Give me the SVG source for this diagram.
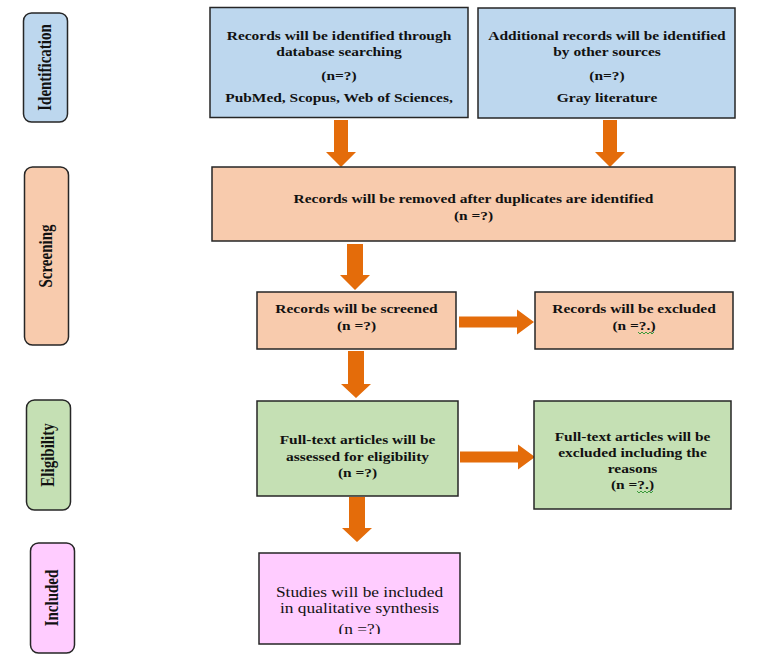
<svg xmlns="http://www.w3.org/2000/svg" width="767" height="662" viewBox="0 0 767 662">
<defs>
<style>
.box{stroke:#262626;stroke-width:1.5}
.blue{fill:#BDD7EE}
.orange{fill:#F8CBAD}
.green{fill:#C5E0B4}
.pink{fill:#FFCCFF}
.t{font-family:"Liberation Serif","Times New Roman",serif;font-size:13px;font-weight:bold;fill:#111;text-anchor:middle}
.r{font-family:"Liberation Serif","Times New Roman",serif;font-size:14px;font-weight:normal;fill:#111;text-anchor:middle}
.lab{font-family:"Liberation Serif","Times New Roman",serif;font-size:15px;font-weight:bold;fill:#111;text-anchor:middle}
.arrow{fill:#E46C0A}
.sq{fill:none;stroke:#3a9a3a;stroke-width:1}
</style>
<clipPath id="clipStudies"><rect x="259" y="553" width="201" height="81"/></clipPath>
</defs>
<rect width="767" height="662" fill="#ffffff"/>

<g id="label-identification">
<rect class="box blue" x="23.5" y="13" width="44" height="109" rx="8"/>
<text class="lab" transform="translate(50.5,67.5) scale(1.19,1) rotate(-90)">Identification</text>
</g>
<g id="label-screening">
<rect class="box orange" x="24.5" y="167" width="44" height="178" rx="8"/>
<text class="lab" transform="translate(51.5,256) scale(1.19,1) rotate(-90)">Screening</text>
</g>
<g id="label-eligibility">
<rect class="box green" x="26.5" y="400" width="44" height="110" rx="8"/>
<text class="lab" transform="translate(53.5,455) scale(1.19,1) rotate(-90)">Eligibility</text>
</g>
<g id="label-included">
<rect class="box pink" x="30.5" y="543" width="44" height="110" rx="8"/>
<text class="lab" transform="translate(57.5,598) scale(1.19,1) rotate(-90)">Included</text>
</g>

<g id="connectors">
<polygon class="arrow" points="334,120 348,120 348,152 356,152 341,167 326,152 334,152"/>
<polygon class="arrow" points="603,120 617,120 617,152 625,152 610,167 595,152 603,152"/>
<polygon class="arrow" points="347,244 363,244 363,275 370,275 355,290 340,275 347,275"/>
<polygon class="arrow" points="348,351 364,351 364,384 371,384 356,398 341,384 348,384"/>
<polygon class="arrow" points="349,497 365,497 365,528 372,528 357,542 342,528 349,528"/>
<polygon class="arrow" points="459,316.5 517,316.5 517,309.5 534,322 517,334.5 517,327.5 459,327.5"/>
<polygon class="arrow" points="460,451.5 518,451.5 518,444.5 535,457 518,469.5 518,462.5 460,462.5"/>
</g>

<g id="node-database">
<rect class="box blue" x="210" y="7.5" width="258" height="110"/>
<g transform="translate(339,0) scale(1.19,1)">
<text class="t" x="0" y="40">Records will be identified through</text>
<text class="t" x="0" y="56">database searching</text>
<text class="t" x="0" y="80">(n=?)</text>
<text class="t" x="0" y="102">PubMed, Scopus, Web of Sciences,</text>
</g>
</g>

<g id="node-other">
<rect class="box blue" x="478" y="8" width="257" height="110"/>
<g transform="translate(607,0) scale(1.19,1)">
<text class="t" x="0" y="40">Additional records will be identified</text>
<text class="t" x="0" y="56">by other sources</text>
<text class="t" x="0" y="80">(n=?)</text>
<text class="t" x="0" y="102">Gray literature</text>
</g>
</g>

<g id="node-duplicates">
<rect class="box orange" x="212" y="167" width="523" height="74"/>
<g transform="translate(473.5,0) scale(1.19,1)">
<text class="t" x="0" y="203">Records will be removed after duplicates are identified</text>
<text class="t" x="0" y="220">(n =?)</text>
</g>
</g>

<g id="node-screened">
<rect class="box orange" x="257" y="292" width="199" height="57"/>
<g transform="translate(356.5,0) scale(1.19,1)">
<text class="t" x="0" y="313">Records will be screened</text>
<text class="t" x="0" y="330">(n =?)</text>
</g>
</g>

<g id="node-excluded">
<rect class="box orange" x="535" y="292" width="198" height="57"/>
<g transform="translate(634,0) scale(1.19,1)">
<text class="t" x="0" y="313">Records will be excluded</text>
<text class="t" x="0" y="330">(n =?.)</text>
</g>
<path class="sq" d="M638,332 l2,2 l2,-2 l2,2 l2,-2 l2,2 l2,-2 l2,2 l2,-2"/>
</g>

<g id="node-fulltext">
<rect class="box green" x="257" y="401" width="201" height="95"/>
<g transform="translate(357.5,0) scale(1.19,1)">
<text class="t" x="0" y="444">Full-text articles will be</text>
<text class="t" x="0" y="461">assessed for eligibility</text>
<text class="t" x="0" y="477">(n =?)</text>
</g>
</g>

<g id="node-fulltext-excluded">
<rect class="box green" x="534" y="401" width="197" height="108"/>
<g transform="translate(632.5,0) scale(1.19,1)">
<text class="t" x="0" y="441">Full-text articles will be</text>
<text class="t" x="0" y="457">excluded including the</text>
<text class="t" x="0" y="473">reasons</text>
<text class="t" x="0" y="489">(n =?.)</text>
</g>
<path class="sq" d="M637,491 l2,2 l2,-2 l2,2 l2,-2 l2,2 l2,-2 l2,2 l2,-2"/>
</g>

<g id="node-included">
<rect class="box pink" x="259" y="553" width="201" height="91"/>
<g clip-path="url(#clipStudies)">
<g transform="translate(359.5,0) scale(1.24,1)">
<text class="r" x="0" y="597">Studies will be included</text>
<text class="r" x="0" y="613">in qualitative synthesis</text>
<text class="r" x="0" y="634">(n =?)</text>
</g>
</g>
</g>
</svg>
